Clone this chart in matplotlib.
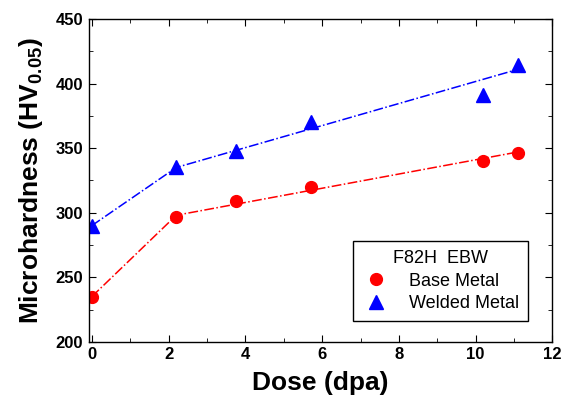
import matplotlib
matplotlib.use("Agg")
import matplotlib.pyplot as plt

plt.rcParams['font.family'] = ['Liberation Sans', 'DejaVu Sans']
plt.rcParams['mathtext.fontset'] = 'custom'
plt.rcParams['mathtext.rm'] = 'Liberation Sans:bold'
plt.rcParams['mathtext.bf'] = 'Liberation Sans:bold'

# data
dose = [0, 2.2, 3.75, 5.7, 10.2, 11.1]
base_metal = [235, 297, 309, 320, 340, 346]
welded_metal = [290, 335, 348, 370, 391, 414]

# trend lines (start point, knee, end of linear fit)
line_dose = [0, 2.2, 11.1]
base_line = [235, 298, 347]
welded_line = [290, 335, 411]

fig = plt.figure(figsize=(5.62, 4.04), dpi=100)
ax = fig.add_axes([0.158, 0.154, 0.825, 0.799])

ax.plot(line_dose, base_line, color='red', linestyle='-.', linewidth=1.1)
ax.plot(line_dose, welded_line, color='blue', linestyle='-.', linewidth=1.1)
ax.plot(dose, base_metal, 'o', color='red', markersize=8.5, label='Base Metal')
ax.plot(dose, welded_metal, '^', color='blue', markersize=9.5, label='Welded Metal')

ax.set_xlim(-0.08, 12)
ax.set_ylim(200, 450)
ax.set_xticks(range(0, 13, 2))
ax.set_xticks(range(1, 12, 2), minor=True)
ax.set_yticks(range(200, 451, 50))
ax.set_yticks(range(225, 450, 50), minor=True)
ax.tick_params(which='both', direction='in', top=True, right=True)
ax.tick_params(which='major', length=5, labelsize=12, pad=4)
ax.tick_params(which='minor', length=3)
for lbl in ax.get_xticklabels() + ax.get_yticklabels():
    lbl.set_fontweight('bold')
for s in ax.spines.values():
    s.set_linewidth(1)

ax.set_xlabel('Dose (dpa)', fontsize=19, fontweight='bold', labelpad=6)
ax.set_ylabel(r'Microhardness (HV$_{0.05}$)', fontsize=19, fontweight='bold', labelpad=8)

leg = ax.legend(title='F82H  EBW', loc='lower right', bbox_to_anchor=(0.947, 0.064),
                borderaxespad=0, fontsize=13, title_fontsize=13, fancybox=False,
                edgecolor='black', framealpha=1, handlelength=1.6, handletextpad=1.0,
                borderpad=0.5, labelspacing=0.3)
leg.get_frame().set_linewidth(1)

fig.savefig('out.png', dpi=100)
